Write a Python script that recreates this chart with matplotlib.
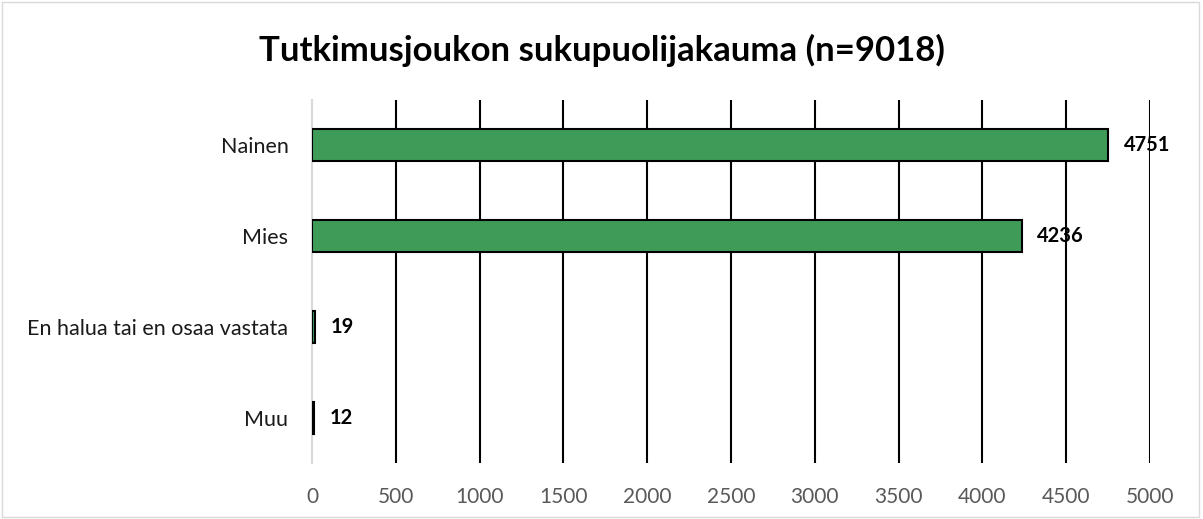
import matplotlib.pyplot as plt
from matplotlib.patches import Rectangle

categories = ["Nainen", "Mies", "En halua tai en osaa vastata", "Muu"]
counts = [4751, 4236, 19, 12]
x_ticks = [0, 500, 1000, 1500, 2000, 2500, 3000, 3500, 4000, 4500, 5000]
title = "Tutkimusjoukon sukupuolijakauma (n=9018)"

plt.rcParams["font.family"] = ["Lato", "DejaVu Sans"]

fig = plt.figure(figsize=(12.03, 5.19), dpi=100)
ax = fig.add_axes([312 / 1203, 1 - 463 / 519, (1150 - 312) / 1203, (463 - 100) / 519])

ypos = list(range(len(categories)))
ax.barh(ypos, counts, height=0.35, color="#3f9c58", edgecolor="black",
        linewidth=1.5, zorder=3)

for y, v in zip(ypos, counts):
    ax.annotate(str(v), (v, y), xytext=(11, 0), textcoords="offset points",
                ha="left", va="center", fontsize=14.5, fontweight="bold",
                color="black", zorder=1)

ax.set_ylim(len(categories) - 0.5, -0.5)
ax.set_xlim(0, 5000)
ax.set_xticks(x_ticks)
ax.set_xticklabels([str(t) for t in x_ticks], fontsize=15, color="#595959")
ax.set_yticks(ypos)
ax.set_yticklabels(categories, fontsize=15.5, color="#1a1a1a")
ax.tick_params(axis="x", length=0, pad=17)
ax.tick_params(axis="y", length=0, pad=17)

ax.grid(axis="x", color="black", linewidth=1.5, zorder=2)
for gl in ax.get_xgridlines():
    gl.set_zorder(2)
ax.get_xgridlines()[0].set_visible(False)

for name, spine in ax.spines.items():
    spine.set_visible(name == "left")
ax.spines["left"].set_color("#d9d9d9")
ax.spines["left"].set_linewidth(1.5)

fig.text(0.5, 1 - 50 / 519, title, ha="center", va="center",
         fontsize=25, fontweight="bold")

fig.patches.append(Rectangle((0.002, 0.003), 0.995, 0.994, transform=fig.transFigure,
                             fill=False, edgecolor="#d9d9d9", linewidth=1))

fig.savefig("out.png", dpi=100)
